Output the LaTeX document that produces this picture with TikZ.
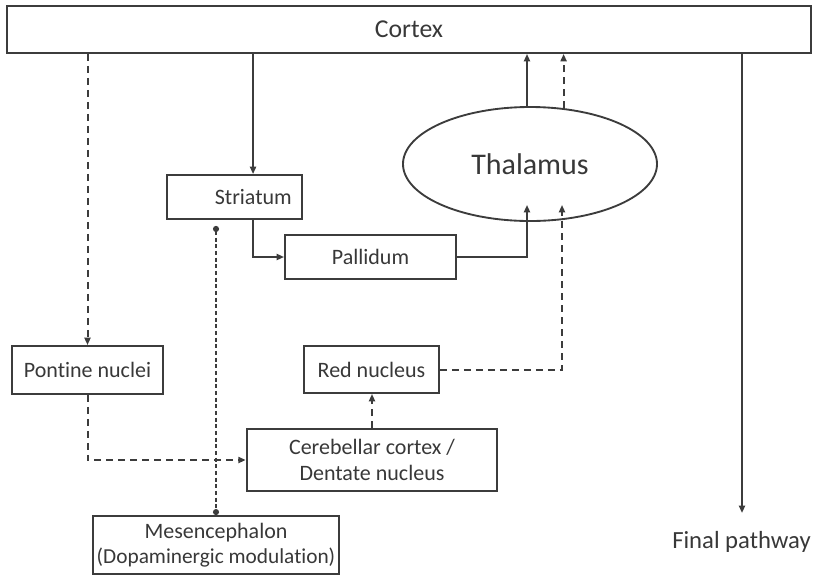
\documentclass[tikz,border=0pt]{standalone}
\usepackage{fontspec}
\setmainfont{Carlito}[Ligatures=CommonOff]
\usetikzlibrary{arrows.meta,shapes.geometric}
\definecolor{linegray}{HTML}{3C3C3C}
\definecolor{textgray}{HTML}{383838}
\begin{document}
\begin{tikzpicture}[x=0.75pt, y=-0.75pt,
    box/.style={draw=linegray, line width=1.4pt, text=textgray, inner sep=0pt,
        align=center, font=\fontsize{16.5}{19.5}\selectfont},
    arr/.style={draw=linegray, line width=1.5pt, -{Triangle[length=5.5pt,width=4.5pt]}},
    darr/.style={arr, dash pattern=on 5.25pt off 3.75pt},
    dotline/.style={draw=linegray, line width=1.5pt, dash pattern=on 3pt off 2pt,
        {Circle[length=4.5pt]}-{Circle[length=4.5pt]}}]
    \useasboundingbox (0,0) rectangle (813,576);

    % boxes
    \node[box, minimum width=603pt, minimum height=35.25pt, font=\fontsize{19.3}{22}\selectfont] (cortex) at (409,29.5) {Cortex};
    \node[box, minimum width=101.25pt, minimum height=33pt, text width=86pt, align=right] (striatum) at (234.5,197) {Striatum};
    \node[box, minimum width=128.25pt, minimum height=33pt] (pallidum) at (370.5,257) {Pallidum};
    \node[box, ellipse, minimum width=190.5pt, minimum height=85.5pt, font=\fontsize{22.5}{25}\selectfont] (thalamus) at (530,164) {Thalamus};
    \node[box, minimum width=113.25pt, minimum height=36pt] (pontine) at (87.5,370) {Pontine nuclei};
    \node[box, minimum width=101.25pt, minimum height=35.25pt] (red) at (371.5,369.5) {Red nucleus};
    \node[box, minimum width=188pt, minimum height=46.5pt] (cerebellar) at (372,460) {Cerebellar cortex /\\Dentate nucleus};
    \node[box, minimum width=184.5pt, minimum height=43.5pt, font=\fontsize{16.5}{18.75}\selectfont] (mesen) at (216,545)
        {Mesencephalon\\{\fontsize{16}{18.75}\selectfont (Dopaminergic modulation)}};
    \node[anchor=base, text=textgray, font=\fontsize{18.5}{21}\selectfont] (final) at (741.5,548) {Final pathway};
    \coordinate (fpend) at (742,513);

    % solid pathway
    \draw[arr] ([xshift=13.9pt]striatum.north |- cortex.south) -- ([xshift=13.9pt]striatum.north);
    \draw[arr] ([xshift=13.9pt]striatum.south) |- (pallidum.west);
    \draw[arr] (pallidum.east) -| ([xshift=-2.25pt,yshift=12.75pt]thalamus.south);
    \draw[arr] ([xshift=-2.25pt]thalamus.north) -- ([xshift=-2.25pt]thalamus.north |- cortex.south);
    \draw[arr] (fpend |- cortex.south) -- (fpend);

    % dashed pathway
    \draw[darr] (pontine.north |- cortex.south) -- (pontine.north);
    \draw[darr] (pontine.south) |- (cerebellar.west);
    \draw[darr] (cerebellar.north) -- (cerebellar.north |- red.south);
    \draw[darr] (red.east) -| ([xshift=24pt,yshift=12.75pt]thalamus.south);
    \draw[darr] (thalamus.59.3) -- (thalamus.59.3 |- cortex.south);

    % modulation
    \draw[dotline] ([yshift=-4.5pt]striatum.south -| mesen.north) -- (mesen.north);
\end{tikzpicture}
\end{document}
